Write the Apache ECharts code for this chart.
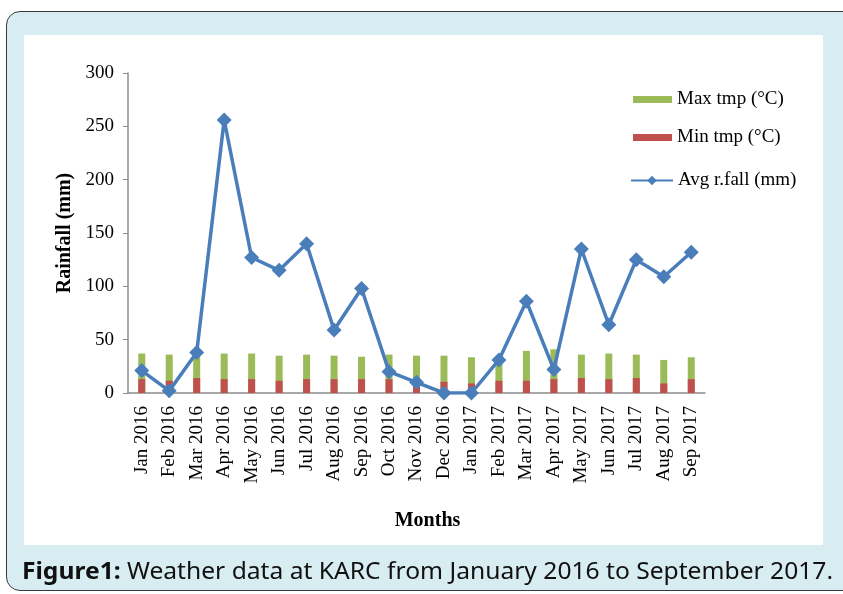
<!DOCTYPE html>
<html>
<head>
<meta charset="utf-8">
<script src="https://cdn.jsdelivr.net/npm/echarts@6/dist/echarts.min.js"></script>
<style>
  html, body { margin: 0; padding: 0; background: #ffffff; }
  #wrap { position: relative; width: 843px; height: 594px; overflow: hidden; }
  #panel { position: absolute; left: 6px; top: 11px; width: 860px; height: 580px;
           background: #d8edf2; border: 1.5px solid #3a3a3a; border-radius: 14px; box-sizing: border-box; }
  #inner { position: absolute; left: 24px; top: 35px; width: 799px; height: 510px; background: #ffffff; }
  #chart { position: absolute; left: 0; top: 0; width: 843px; height: 594px; }
  #caption { position: absolute; left: 22px; top: 556px; white-space: nowrap;
             font-family: "Noto Sans", sans-serif; font-size: 23px; color: #111; transform-origin: 0 0; line-height: 28px; }
  #caption b { font-weight: bold; }
</style>
</head>
<body>
<div id="wrap">
  <div id="panel"></div>
  <div id="inner"></div>
  <div id="chart"></div>
  <div id="caption"><b>Figure1:</b> Weather data at KARC from January 2016 to September 2017.</div>
</div>
<script>
const categories = ['Jan 2016','Feb 2016','Mar 2016','Apr 2016','May 2016','Jun 2016','Jul 2016','Aug 2016','Sep 2016','Oct 2016','Nov 2016','Dec 2016',
  'Jan 2017','Feb 2017','Mar 2017','Apr 2017','May 2017','Jun 2017','Jul 2017','Aug 2017','Sep 2017'];
const maxTmp = [37, 36, 37, 37, 37, 35, 36, 35, 34, 36, 35, 35, 33.5, 35, 39.5, 41, 36, 37, 36, 31, 33.5];
const minTmp = [13, 11.5, 14, 13, 13, 11.5, 13, 13, 13, 13, 10, 10.5, 9, 11.5, 11.5, 13, 14, 13, 14, 9, 13];
const avgRain = [21, 2, 38, 256, 127, 115, 140, 59, 98, 20, 10, 0, 0, 31, 86, 22, 135, 64, 125, 109, 132];
const yTicks = { min: 0, max: 300, interval: 50 };

const serif = '"Liberation Serif", "Times New Roman", serif';
const chart = echarts.init(document.getElementById('chart'), null, { renderer: 'canvas' });
const legendBase = {
  orient: 'vertical', left: 628, itemWidth: 39, itemGap: 4,
  textStyle: { fontFamily: serif, fontSize: 19, color: '#000' }, selectedMode: false
};
chart.setOption({
  backgroundColor: 'transparent',
  animation: false,
  grid: { left: 128, right: 138, top: 73, bottom: 201 },
  legend: [
    Object.assign({}, legendBase, { top: 85, itemHeight: 7, data: [{ name: 'Max tmp (°C)', icon: 'rect' }] }),
    Object.assign({}, legendBase, { top: 123, itemHeight: 7, data: [{ name: 'Min tmp (°C)', icon: 'rect' }] }),
    Object.assign({}, legendBase, { top: 166, left: 625, itemWidth: 42, itemHeight: 12, data: ['Avg r.fall (mm)'] })
  ],
  xAxis: {
    type: 'category', data: categories,
    axisLine: { lineStyle: { color: '#8c8c8c', width: 1.5 } },
    axisTick: { show: false },
    axisLabel: { rotate: 90, interval: 0, fontFamily: serif, fontSize: 19, color: '#000', margin: 13 },
    name: 'Months', nameLocation: 'middle', nameGap: 118,
    nameTextStyle: { fontFamily: serif, fontSize: 20, fontWeight: 'bold', color: '#000', padding: [0, 0, 0, 22] }
  },
  yAxis: {
    type: 'value', min: yTicks.min, max: yTicks.max, interval: yTicks.interval,
    axisLine: { show: true, lineStyle: { color: '#8c8c8c', width: 1.5 } },
    axisTick: { show: true, length: 5, lineStyle: { color: '#8c8c8c' } },
    splitLine: { show: false },
    axisLabel: { fontFamily: serif, fontSize: 19, color: '#000', margin: 14 },
    name: 'Rainfall (mm)', nameLocation: 'middle', nameGap: 50,
    nameTextStyle: { fontFamily: serif, fontSize: 20, fontWeight: 'bold', color: '#000' }
  },
  series: [
    { name: 'Max tmp (°C)', type: 'bar', data: maxTmp, barWidth: 7, barGap: '-100%',
      itemStyle: { color: '#9bbb59' } },
    { name: 'Min tmp (°C)', type: 'bar', data: minTmp, barWidth: 7, barGap: '-100%',
      itemStyle: { color: '#c0504d' } },
    { name: 'Avg r.fall (mm)', type: 'line', data: avgRain, symbol: 'diamond', symbolSize: 15,
      lineStyle: { width: 3.5, color: '#4a7ebb' }, itemStyle: { color: '#4a7ebb' }, z: 5 }
  ]
});

// fit caption to reference width
const cap = document.getElementById('caption');
const w = cap.getBoundingClientRect().width;
cap.style.transform = 'scaleX(' + (811 / w) + ')';
</script>
</body>
</html>
